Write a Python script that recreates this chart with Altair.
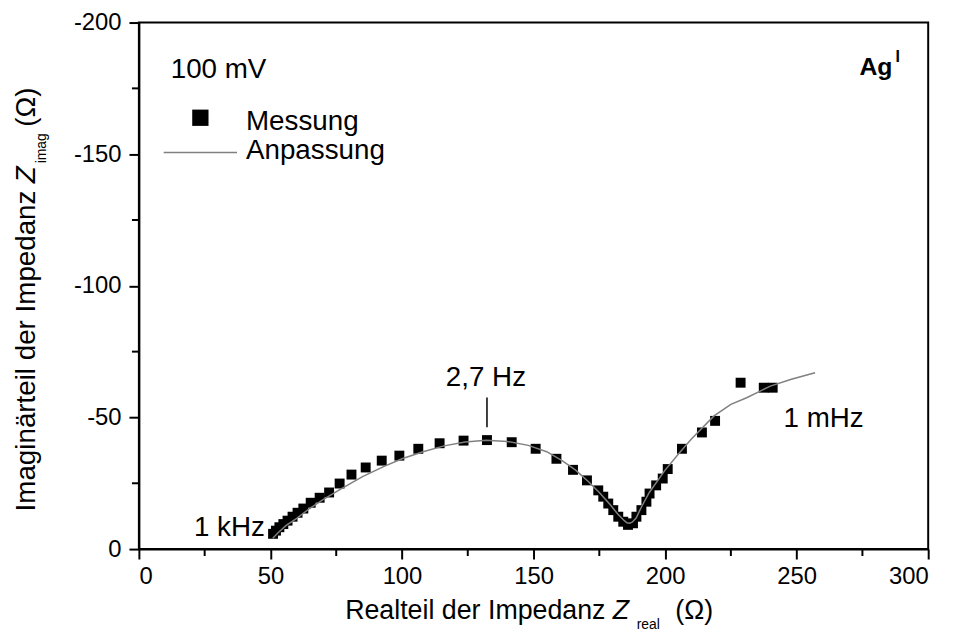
import altair as alt
import pandas as pd

# ---- data ----
meas_x = [51.0, 52.1, 53.4, 54.9, 56.5, 58.4, 60.3, 62.5, 65.3, 68.7, 72.3, 76.3, 80.8, 86.2,
          92.3, 99.0, 106.2, 114.3, 123.4, 132.3, 141.7, 150.8, 158.7, 165.0, 170.3,
          174.6, 176.5, 178.4, 180.3, 182.2, 184.1, 185.9, 187.8, 189.1, 191.0, 192.9,
          194.1, 196.6, 199.1, 201.0, 206.4, 214.0, 219.0, 228.7, 237.5, 240.9]
meas_y = [-5.8, -7.0, -8.3, -9.5, -10.8, -12.3, -13.8, -15.4, -17.6, -19.5, -21.5, -24.9, -28.3, -31.0,
          -33.6, -35.5, -38.1, -40.2, -41.2, -41.4, -40.6, -38.1, -34.3, -30.1, -26.1,
          -22.3, -19.9, -17.3, -14.8, -12.3, -10.4, -9.2, -9.8, -12.3, -14.8, -18.0,
          -21.1, -24.2, -26.8, -30.4, -38.1, -44.3, -48.7, -63.2, -61.3, -61.3]

fit_x = [50.9, 53, 56, 60, 65, 70, 77, 85, 93, 100, 108, 116, 124, 132, 140, 148, 155, 161,
         166, 171, 175, 179, 182, 184.5, 185.5, 186.5, 187.5, 189, 191, 194, 200, 205, 210,
         218.6, 225, 231, 240, 248, 257]
fit_y = [-4.1, -6.3, -9.0, -11.7, -15.5, -18.8, -23.0, -27.5, -31.3, -34.3, -37.0, -39.2, -40.7,
         -41.3, -40.9, -39.4, -37.0, -33.5, -30.0, -25.5, -21.5, -17.0, -13.3, -10.8, -10.0,
         -9.8, -10.2, -11.8, -16.0, -21.5, -30.0, -36.0, -41.8, -50.6, -55.0, -57.5, -61.9,
         -64.5, -67.0]

x_major = [0, 50, 100, 150, 200, 250, 300]
x_minor = [25, 75, 125, 175, 225, 275]
y_major = [-200, -150, -100, -50, 0]
y_minor = [-175, -125, -75, -25]

ann_text = ["2,7 Hz", "1 mHz", "1 kHz", "100 mV"]
ann_x = [131.9, 245.0, 47.9, 12.1]
ann_y = [-61.8, -46.3, -4.9, -179.0]

peak_x = [132.3]
peak_y = [-57.6]
peak_y2 = [-46.3]

FONT = "Liberation Sans"
W, H = 796, 531
GRAY = "#808080"
FS = 28

xs = alt.Scale(domain=[0, 300], nice=False, zero=False)
ys = alt.Scale(domain=[-200, 0], nice=False, zero=False, reverse=True)

meas = pd.DataFrame({"x": meas_x, "y": meas_y})
fit = pd.DataFrame({"x": fit_x, "y": fit_y})

points = alt.Chart(meas).mark_point(
    shape="square", filled=True, size=100, color="black", opacity=1
).encode(
    x=alt.X("x:Q", scale=xs, axis=alt.Axis(values=x_major, title=None, orient="bottom",
                                           labelExpr="'' + datum.value", tickSize=10,
                                           labelPadding=6)),
    y=alt.Y("y:Q", scale=ys, axis=alt.Axis(values=y_major, title=None, orient="left",
                                           labelExpr="'' + datum.value", tickSize=10,
                                           labelPadding=8)),
)

line = alt.Chart(fit).mark_line(color=GRAY, strokeWidth=1.5).encode(
    x=alt.X("x:Q", scale=xs, axis=None),
    y=alt.Y("y:Q", scale=ys, axis=None),
)

xminor = alt.Chart(pd.DataFrame({"v": x_minor})).mark_rule(color="black", strokeWidth=2).encode(
    x=alt.X("v:Q", scale=xs, axis=None),
    y=alt.value(H), y2=alt.value(H + 7),
)
yminor = alt.Chart(pd.DataFrame({"v": y_minor})).mark_rule(color="black", strokeWidth=2).encode(
    y=alt.Y("v:Q", scale=ys, axis=None),
    x=alt.value(-7), x2=alt.value(0),
)

ann = pd.DataFrame({"x": ann_x, "y": ann_y, "t": ann_text})


def ann_layer(idx, align):
    return alt.Chart(ann.iloc[[idx]]).mark_text(
        font=FONT, fontSize=FS, color="black", align=align, baseline="alphabetic"
    ).encode(
        x=alt.X("x:Q", scale=xs, axis=None),
        y=alt.Y("y:Q", scale=ys, axis=None),
        text="t:N",
    )


anns = [ann_layer(0, "center"), ann_layer(1, "left"), ann_layer(2, "right"), ann_layer(3, "left")]

peak = alt.Chart(pd.DataFrame({"x": peak_x, "y": peak_y, "y2": peak_y2})).mark_rule(
    color="black", strokeWidth=1.5
).encode(
    x=alt.X("x:Q", scale=xs, axis=None),
    y=alt.Y("y:Q", scale=ys, axis=None),
    y2="y2:Q",
)


def ptext(txt, x, y, size=FS, align="left", angle=0, style="normal", weight="normal"):
    return alt.Chart(pd.DataFrame({"a": [0]})).mark_text(
        text=txt, font=FONT, fontSize=size, color="black", align=align,
        baseline="alphabetic", angle=angle, fontStyle=style, fontWeight=weight
    ).encode(x=alt.value(x), y=alt.value(y))


texts = [
    # x-axis title
    ptext("Realteil der Impedanz", 208, 602, size=27),
    ptext("Z", 478, 602, size=27, style="italic"),
    ptext("real", 502, 612, size=14),
    ptext("(\u03a9)", 541, 602, size=27),
    # y-axis title (rotated)
    ptext("Imaginärteil der Impedanz", -105, 493, angle=270),
    ptext("Z", -105, 162, angle=270, style="italic"),
    ptext("imag", -94, 142, size=14, angle=270),
    ptext("(\u03a9)", -105, 105, angle=270),
    # legend
    ptext("Messung", 108, 108),
    ptext("Anpassung", 108, 138),
    # Ag^I
    ptext("Ag", 760, 53, size=25, align="right", weight="bold"),
    ptext("I", 763, 40, size=16, weight="bold"),
]

leg_sq = alt.Chart(pd.DataFrame({"a": [0]})).mark_point(
    shape="square", filled=True, size=270, color="black", opacity=1
).encode(x=alt.value(62), y=alt.value(96))
leg_ln = alt.Chart(pd.DataFrame({"a": [0]})).mark_rule(color=GRAY, strokeWidth=1.5).encode(
    x=alt.value(25), x2=alt.value(99), y=alt.value(131)
)

chart = alt.layer(
    points, line, xminor, yminor, peak, *anns, *texts, leg_sq, leg_ln
).resolve_axis(
    x="independent", y="independent"
).properties(
    width=W, height=H,
    padding={"left": 132, "top": 12, "right": 23, "bottom": 88},
    autosize=alt.AutoSizeParams(type="none"),
).configure_view(
    stroke="black", strokeWidth=2
).configure_axis(
    domainColor="black", domainWidth=2, tickColor="black", tickWidth=2,
    labelFont=FONT, labelFontSize=24, labelColor="black", grid=False,
)

chart.save("out.html", embed_options={"renderer": "svg", "actions": False})
